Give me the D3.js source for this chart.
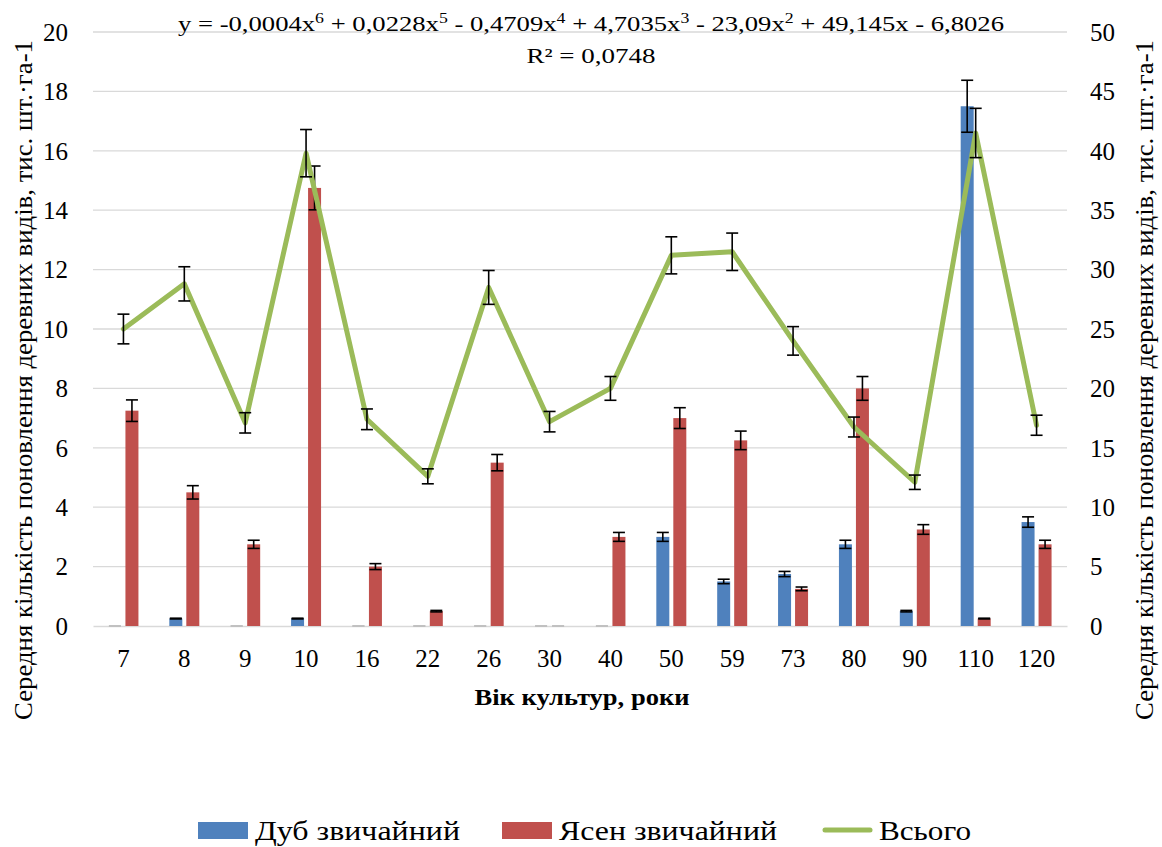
<!DOCTYPE html>
<html>
<head>
<meta charset="utf-8">
<script src="https://cdn.jsdelivr.net/npm/d3@7"></script>
<style>
  html, body { margin: 0; padding: 0; background: #fff; }
</style>
</head>
<body>
<svg id="chart" width="1162" height="847"></svg>
<script>
// Stand age categories (years)
const categories = ["7", "8", "9", "10", "16", "22", "26", "30", "40", "50", "59", "73", "80", "90", "110", "120"];
// Oak regeneration, thousand pcs/ha (left axis)
const oakValues = [0, 0.25, 0, 0.25, 0, 0, 0, 0, 0, 3.0, 1.5, 1.75, 2.75, 0.5, 17.5, 3.5];
// Ash regeneration, thousand pcs/ha (left axis)
const ashValues = [7.25, 4.5, 2.75, 14.75, 2.0, 0.5, 5.5, 0, 3.0, 7.0, 6.25, 1.25, 8.0, 3.25, 0.25, 2.75];
// Total regeneration, thousand pcs/ha (right axis)
const totalValues = [25.0, 28.8, 17.1, 39.8, 17.4, 12.6, 28.5, 17.2, 20.0, 31.2, 31.5, 24.0, 16.75, 12.1, 41.5, 16.9];
// Relative error shown by the error bars
const errorShare = 0.05;
const leftTicks = [0, 2, 4, 6, 8, 10, 12, 14, 16, 18, 20];
const rightTicks = [0, 5, 10, 15, 20, 25, 30, 35, 40, 45, 50];
const seriesNames = ["Дуб звичайний", "Ясен звичайний", "Всього"];
const colors = { oak: "#4F81BD", ash: "#C0504D", total: "#9BBB59", grid: "#D9D9D9" };
const FONT = '"Liberation Serif", "Times New Roman", "DejaVu Serif", serif';

const svg = d3.select("#chart").style("font-family", FONT);
const plot = { left: 93, right: 1067, top: 32, bottom: 626 };

const x = d3.scaleBand().domain(categories).range([plot.left, plot.right]);
const yL = d3.scaleLinear().domain([0, 20]).range([plot.bottom, plot.top]);
const yR = d3.scaleLinear().domain([0, 50]).range([plot.bottom, plot.top]);

const barW = 13, barGap = 4;

function styleText(sel, size) {
  return sel.style("font-family", FONT).style("font-size", size + "px").attr("fill", "#000");
}

// Gridlines
svg.append("g").selectAll("line").data(leftTicks.filter(d => d > 0)).join("line")
  .attr("x1", plot.left).attr("x2", plot.right)
  .attr("y1", d => yL(d)).attr("y2", d => yL(d))
  .attr("stroke", colors.grid).attr("stroke-width", 1.3);

// Left axis
const axL = svg.append("g").attr("transform", `translate(${plot.left},0)`)
  .call(d3.axisLeft(yL).tickValues(leftTicks).tickSize(0).tickPadding(25));
axL.attr("font-family", null);
axL.select(".domain").remove();
styleText(axL.selectAll("text"), 25).attr("dy", "0.33em");

// Right axis
const axR = svg.append("g").attr("transform", `translate(${plot.right},0)`)
  .call(d3.axisRight(yR).tickValues(rightTicks).tickSize(0).tickPadding(23));
axR.attr("font-family", null);
axR.select(".domain").remove();
styleText(axR.selectAll("text"), 25).attr("dy", "0.33em");

// Category axis
const axB = svg.append("g").attr("transform", `translate(0,${plot.bottom})`)
  .call(d3.axisBottom(x).tickSize(0).tickPadding(0));
axB.attr("font-family", null);
axB.select(".domain").attr("stroke", colors.grid).attr("stroke-width", 1.3);
styleText(axB.selectAll("text"), 25).attr("dy", null).attr("y", 41);

// Bars
function drawBars(values, color, offset) {
  const cx = c => x(c) + x.bandwidth() / 2 + offset;
  svg.append("g").selectAll("rect").data(values.map((v, i) => ({ c: categories[i], v })))
    .join("rect")
    .attr("x", d => cx(d.c) - barW / 2)
    .attr("width", barW)
    .attr("y", d => yL(d.v))
    .attr("height", d => yL(0) - yL(d.v))
    .attr("fill", color);
  return cx;
}
const oakX = drawBars(oakValues, colors.oak, -(barW + barGap) / 2);
const ashX = drawBars(ashValues, colors.ash, (barW + barGap) / 2);

// Error bars (± errorShare of the value)
function errorBars(values, cxFn, yScale) {
  const g = svg.append("g").attr("stroke-width", 1.6).attr("fill", "none");
  values.forEach((v, i) => {
    const cx = cxFn(categories[i]);
    const e = v * errorShare;
    const y1 = yScale(v + e), y2 = yScale(v - e);
    const col = v === 0 ? "#BFBFBF" : "#000";
    g.append("line").attr("x1", cx).attr("x2", cx).attr("y1", y1).attr("y2", y2).attr("stroke", col);
    [y1, y2].forEach(yy => g.append("line").attr("x1", cx - 6).attr("x2", cx + 6)
      .attr("y1", yy).attr("y2", yy).attr("stroke", col));
  });
}
errorBars(oakValues, oakX, yL);
errorBars(ashValues, ashX, yL);

// Total line
const lineX = c => x(c) + x.bandwidth() / 2;
svg.append("path")
  .datum(totalValues.map((v, i) => ({ c: categories[i], v })))
  .attr("fill", "none").attr("stroke", colors.total).attr("stroke-width", 5)
  .attr("stroke-linejoin", "round").attr("stroke-linecap", "round")
  .attr("d", d3.line().x(d => lineX(d.c)).y(d => yR(d.v)));
errorBars(totalValues, lineX, yR);

// Polynomial trend equation
const eqParts = [["y = -0,0004x", "6"], [" + 0,0228x", "5"], [" - 0,4709x", "4"], [" + 4,7035x", "3"], [" - 23,09x", "2"], [" + 49,145x - 6,8026", null]];
const eq = styleText(svg.append("text"), 21).attr("x", 591).attr("y", 31).attr("text-anchor", "middle");
let raised = false;
eqParts.forEach(([t, s]) => {
  eq.append("tspan").attr("dy", raised ? 8 : 0).text(t);
  raised = false;
  if (s) { eq.append("tspan").attr("dy", -8).style("font-size", "14px").text(s); raised = true; }
});
eq.attr("textLength", 826).attr("lengthAdjust", "spacingAndGlyphs");
styleText(svg.append("text"), 21).attr("x", 591).attr("y", 63).attr("text-anchor", "middle")
  .attr("textLength", 129).attr("lengthAdjust", "spacingAndGlyphs")
  .text("R² = 0,0748");

// Axis titles
const yTitle = "Середня кількість поновлення деревних видів, тис. шт.·га-1";
[32, 1153].forEach(tx => {
  styleText(svg.append("text"), 26).attr("transform", `translate(${tx},380) rotate(-90)`)
    .attr("text-anchor", "middle")
    .attr("textLength", 680).attr("lengthAdjust", "spacingAndGlyphs")
    .text(yTitle);
});
styleText(svg.append("text"), 24).attr("x", 582).attr("y", 705).attr("text-anchor", "middle")
  .style("font-weight", "bold")
  .attr("textLength", 215).attr("lengthAdjust", "spacingAndGlyphs")
  .text("Вік культур, роки");

// Legend
const legend = svg.append("g");
const legendItems = [
  { name: seriesNames[0], type: "rect", color: colors.oak, x: 198, w: 205 },
  { name: seriesNames[1], type: "rect", color: colors.ash, x: 502, w: 218 },
  { name: seriesNames[2], type: "line", color: colors.total, x: 822, w: 92 }
];
legendItems.forEach(it => {
  if (it.type === "rect") {
    legend.append("rect").attr("x", it.x).attr("y", 822).attr("width", 50).attr("height", 17).attr("fill", it.color);
  } else {
    legend.append("line").attr("x1", it.x + 3).attr("x2", it.x + 48).attr("y1", 830).attr("y2", 830)
      .attr("stroke", it.color).attr("stroke-width", 5).attr("stroke-linecap", "round");
  }
  styleText(legend.append("text"), 28).attr("x", it.x + 57).attr("y", 840)
    .attr("textLength", it.w).attr("lengthAdjust", "spacingAndGlyphs")
    .text(it.name);
});
</script>
</body>
</html>
